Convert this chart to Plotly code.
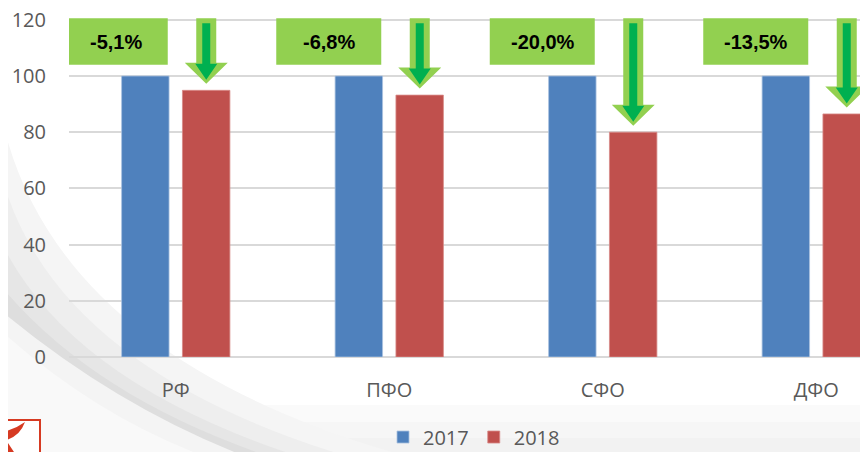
import plotly.graph_objects as go

# ---- data ----
categories = ["РФ", "ПФО", "СФО", "ДФО"]
values_2017 = [100, 100, 100, 100]
values_2018 = [94.9, 93.2, 80.0, 86.5]
change_labels = ["-5,1%", "-6,8%", "-20,0%", "-13,5%"]
series_names = ["2017", "2018"]
y_ticks = [0, 20, 40, 60, 80, 100, 120]

# ---- geometry helpers (window pixel coords; page body adds an 8px offset) ----
OFF = 8
WIN_W, WIN_H = 868, 452
W, H = WIN_W - OFF, WIN_H - OFF
PX_PER_UNIT_Y = (357 - 20) / 120.0           # window px per y unit
Y_TOP = 121.0
plot_top_win = 357 - Y_TOP * PX_PER_UNIT_Y
L = 69 - OFF
T = plot_top_win - OFF
R = 0
B = H - (357 - OFF)
PW, PH = W - L - R, H - T - B
PX_PER_X = 213.5
X_RANGE = [-0.5, -0.5 + PW / PX_PER_X]
Y_RANGE = [0, Y_TOP]


def xp(px):  # window px -> paper x
    return (px - OFF - L) / PW


def yp(py):  # window px -> paper y
    return (357 - py) / PH


def dx(px):
    return px / PX_PER_X


def dy(px):
    return px / PX_PER_UNIT_Y


def bg_path(pts):
    """pts: list of ('M'|'L'|'Q', coords...) in window pixels -> paper path string"""
    out = []
    for cmd, *c in pts:
        conv = [f"{xp(c[k])},{yp(c[k + 1])}" for k in range(0, len(c), 2)]
        out.append(cmd + " " + " ".join(conv))
    return " ".join(out) + " Z"


BLUE = "#4F81BD"
RED = "#C0504D"
LIGHT_GREEN = "#92D050"
DARK_GREEN = "#00B050"
GREY_TXT = "#595959"
FONT = "Open Sans, Liberation Sans, Arial"

xs = list(range(len(categories)))

fig = go.Figure()
fig.add_trace(go.Bar(x=xs, y=values_2017, name=series_names[0],
                     marker=dict(color=BLUE, line=dict(color="#a9c1e0", width=0.8))))
fig.add_trace(go.Bar(x=xs, y=values_2018, name=series_names[1],
                     marker=dict(color=RED, line=dict(color="#d88a88", width=0.8))))

shapes = []


def bg(path, color):
    shapes.append(dict(type="path", xref="paper", yref="paper", layer="below",
                       path=path, fillcolor=color, line=dict(width=0)))


# background decoration: light bottom band
bg(bg_path([("M", 0, 405), ("L", 870, 405), ("L", 870, 460), ("L", 0, 460)]), "#fafafa")
bg(bg_path([("M", 0, 422), ("L", 870, 422), ("L", 870, 460), ("L", 0, 460)]), "#f6f6f6")
bg(bg_path([("M", 0, 438), ("L", 870, 438), ("L", 870, 460), ("L", 0, 460)]), "#f2f2f2")
# grey swoosh above the curve (fading outward)
bg(bg_path([("M", 0, 110), ("Q", 50, 360, 420, 460), ("L", 0, 460)]), "#f5f5f5")
bg(bg_path([("M", 0, 170), ("Q", 50, 370, 360, 460), ("L", 0, 460)]), "#eeeeee")
bg(bg_path([("M", 0, 240), ("Q", 70, 385, 310, 460), ("L", 0, 460)]), "#e6e6e6")
bg(bg_path([("M", 0, 285), ("Q", 95, 400, 280, 460), ("L", 0, 460)]), "#dedede")
# lighter area below the curve
bg(bg_path([("M", 0, 310), ("Q", 120, 410, 255, 460), ("L", 0, 460)]), "#f4f4f4")
bg(bg_path([("M", 0, 330), ("Q", 100, 420, 215, 460), ("L", 0, 460)]), "#f9f9f9")

# logo (bottom-left)
shapes.append(dict(type="rect", xref="paper", yref="paper",
                   x0=xp(0), x1=xp(40), y0=yp(420), y1=yp(460),
                   fillcolor="white", line=dict(color="#d63a22", width=2)))
shapes.append(dict(type="path", xref="paper", yref="paper",
                   path=bg_path([("M", 1, 432), ("Q", 14, 430, 25, 422), ("Q", 20, 436, 6, 440),
                                 ("L", 14, 452), ("L", 1, 452)]),
                   fillcolor="#d63a22", line=dict(width=0)))

annotations = []
for i, (v, lab) in enumerate(zip(values_2018, change_labels)):
    # label box
    shapes.append(dict(type="rect", xref="x", yref="y",
                       x0=i - dx(113), x1=i - dx(8), y0=120 - dy(45), y1=120 + dy(1.5),
                       fillcolor=LIGHT_GREEN, line=dict(width=0)))
    annotations.append(dict(x=i - dx(60), y=120 - dy(22), xref="x", yref="y",
                            text=f"<b>{lab}</b>", showarrow=False,
                            font=dict(family="Liberation Sans, Arial", size=20, color="black")))
    # arrow
    xc = i + dx(30.5)
    tip = v + dy(6.5)
    base = tip + dy(21)
    top = 120 + dy(1.5)
    o_sh, o_hd = dx(10), dx(21.5)
    outer = (f"M {xc - o_sh},{top} L {xc + o_sh},{top} L {xc + o_sh},{base} "
             f"L {xc + o_hd},{base} L {xc},{tip} L {xc - o_hd},{base} "
             f"L {xc - o_sh},{base} Z")
    shapes.append(dict(type="path", xref="x", yref="y", path=outer,
                       fillcolor=LIGHT_GREEN, line=dict(width=0)))
    i_sh, i_hd = dx(4), dx(11)
    itop = 120 - dy(3.5)
    itip = tip + dy(4)
    ibase = base - dy(1)
    inner = (f"M {xc - i_sh},{itop} L {xc + i_sh},{itop} L {xc + i_sh},{ibase} "
             f"L {xc + i_hd},{ibase} L {xc},{itip} L {xc - i_hd},{ibase} "
             f"L {xc - i_sh},{ibase} Z")
    shapes.append(dict(type="path", xref="x", yref="y", path=inner,
                       fillcolor=DARK_GREEN, line=dict(width=0)))

fig.update_layout(
    width=W, height=H,
    margin=dict(l=L, r=R, t=T, b=B, pad=0, autoexpand=False),
    paper_bgcolor="white",
    plot_bgcolor="rgba(0,0,0,0)",
    barmode="group", bargap=0.43, bargroupgap=0.22,
    font=dict(family=FONT, size=20, color=GREY_TXT),
    showlegend=True,
    legend=dict(orientation="h", x=xp(474), xanchor="center", y=yp(437), yanchor="middle",
                font=dict(family=FONT, size=20, color=GREY_TXT), bgcolor="rgba(0,0,0,0)",
                itemwidth=30, traceorder="normal"),
    shapes=shapes,
    annotations=annotations,
    xaxis=dict(range=X_RANGE, tickmode="array", tickvals=xs, ticktext=categories,
               showgrid=False, zeroline=False, showline=False, ticks="",
               ticklabelstandoff=19, ticklabeloverflow="allow", automargin=False,
               tickfont=dict(family=FONT, size=20, color=GREY_TXT)),
    yaxis=dict(range=Y_RANGE, tickmode="array", tickvals=y_ticks,
               showgrid=True, gridcolor="#d9d9d9", gridwidth=1.5,
               zeroline=True, zerolinecolor="#d9d9d9", zerolinewidth=1.5,
               showline=False, ticks="", ticklabelstandoff=22, ticklabeloverflow="allow",
               automargin=False,
               tickfont=dict(family=FONT, size=20, color=GREY_TXT)),
)

fig.write_html("out.html")
